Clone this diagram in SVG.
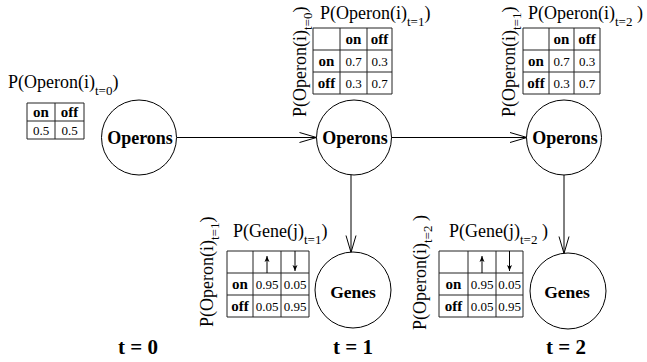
<svg xmlns="http://www.w3.org/2000/svg" width="647" height="362" viewBox="0 0 647 362">
<style>
text{font-family:"Liberation Serif","Times New Roman","DejaVu Serif",serif;fill:#000}
.lbl{font-size:18px}
.sub{font-size:13px}
.node{font-size:18px;font-weight:bold;text-anchor:middle}
.hd{font-size:15px;font-weight:bold;text-anchor:middle}
.v{font-size:13px;text-anchor:middle}
.tl{font-size:21px;font-weight:bold;text-anchor:middle}
.grid{fill:none;stroke:#222;stroke-width:1}
.circ{fill:#fff;stroke:#000;stroke-width:1}
.conn{fill:none;stroke:#000;stroke-width:1}
</style>
<defs>
<marker id="v" markerUnits="userSpaceOnUse" markerWidth="19" markerHeight="12" refX="18" refY="6" orient="auto" viewBox="0 0 19 12">
<path d="M1,1 L18,6 L1,11" fill="none" stroke="#000" stroke-width="1"/>
</marker>
<marker id="s" markerUnits="userSpaceOnUse" markerWidth="7" markerHeight="6" refX="6" refY="3" orient="auto" viewBox="0 0 7 6">
<path d="M0,0.5 L6,3 L0,5.5 L1.5,3 Z" fill="#000"/>
</marker>
</defs>

<g id="connectors">
<line class="conn" x1="177" y1="137.5" x2="316.5" y2="137.5" marker-end="url(#v)"/>
<line class="conn" x1="391" y1="137.5" x2="527" y2="137.5" marker-end="url(#v)"/>
<line class="conn" x1="351" y1="174" x2="351" y2="252.5" marker-end="url(#v)"/>
<line class="conn" x1="564" y1="174" x2="564" y2="253.5" marker-end="url(#v)"/>
</g>

<g id="operons0">
<circle class="circ" cx="139" cy="137.5" r="37.5"/>
<text class="node" x="140" y="143.5">Operons</text>
</g>
<g id="operons1">
<circle class="circ" cx="354" cy="137.5" r="37.5"/>
<text class="node" x="355" y="143.5">Operons</text>
</g>
<g id="operons2">
<circle class="circ" cx="564" cy="137.5" r="37.5"/>
<text class="node" x="565" y="143.5">Operons</text>
</g>
<g id="genes1">
<circle class="circ" cx="353" cy="290" r="38"/>
<text class="node" x="353" y="298" style="font-size:17.5px">Genes</text>
</g>
<g id="genes2">
<circle class="circ" cx="568" cy="291" r="38"/>
<text class="node" x="567" y="298" style="font-size:17.5px">Genes</text>
</g>

<g id="cpt-operon-t0">
<text class="lbl" x="8" y="88">P(Operon(i)<tspan class="sub" dy="7">t=0</tspan><tspan dy="-7">)</tspan></text>
<path class="grid" d="M27,103 H84 V139 H27 Z M55,103 V139 M27,121 H84"/>
<text class="hd" x="41" y="117">on</text>
<text class="hd" x="69.5" y="117">off</text>
<text class="v" x="41" y="135">0.5</text>
<text class="v" x="69.5" y="135">0.5</text>
</g>

<g id="cpt-operon-t1">
<text class="lbl" x="320" y="19">P(Operon(i)<tspan class="sub" dy="7">t=1</tspan><tspan dy="-7">)</tspan></text>
<text class="lbl" transform="translate(306,117) rotate(-90)">P(Operon(i)<tspan class="sub" dy="6">t=0</tspan><tspan dy="-6">)</tspan></text>
<path class="grid" d="M313,28 H392 V94 H313 Z M340,28 V94 M367,28 V94 M313,50 H392 M313,72 H392"/>
<text class="hd" x="353.5" y="44">on</text>
<text class="hd" x="379.5" y="44">off</text>
<text class="hd" x="326.5" y="66">on</text>
<text class="hd" x="326.5" y="88">off</text>
<text class="v" x="353.5" y="66">0.7</text>
<text class="v" x="379.5" y="66">0.3</text>
<text class="v" x="353.5" y="88">0.3</text>
<text class="v" x="379.5" y="88">0.7</text>
</g>

<g id="cpt-operon-t2">
<text class="lbl" x="528" y="19">P(Operon(i)<tspan class="sub" dy="7">t=2</tspan><tspan dy="-7"> )</tspan></text>
<text class="lbl" transform="translate(515,117) rotate(-90)">P(Operon(i)<tspan class="sub" dy="6">t=1</tspan><tspan dy="-6">)</tspan></text>
<path class="grid" d="M523,28 H600 V94 H523 Z M549,28 V94 M574,28 V94 M523,50 H600 M523,72 H600"/>
<text class="hd" x="561.5" y="44">on</text>
<text class="hd" x="587" y="44">off</text>
<text class="hd" x="536" y="66">on</text>
<text class="hd" x="536" y="88">off</text>
<text class="v" x="561.5" y="66">0.7</text>
<text class="v" x="587" y="66">0.3</text>
<text class="v" x="561.5" y="88">0.3</text>
<text class="v" x="587" y="88">0.7</text>
</g>

<g id="cpt-gene-t1">
<text class="lbl" x="233" y="237">P(Gene(j)<tspan class="sub" dy="7">t=1</tspan><tspan dy="-7">)</tspan></text>
<text class="lbl" transform="translate(213,327) rotate(-90)">P(Operon(i)<tspan class="sub" dy="6">t=1</tspan><tspan dy="-6">)</tspan></text>
<path class="grid" d="M227,251 H309 V317 H227 Z M253,251 V317 M281,251 V317 M227,273 H309 M227,295 H309"/>
<line class="conn" x1="267" y1="273" x2="267" y2="256" marker-end="url(#s)"/>
<line class="conn" x1="295" y1="251" x2="295" y2="271" marker-end="url(#s)"/>
<text class="hd" x="240" y="289">on</text>
<text class="hd" x="240" y="311">off</text>
<text class="v" x="267" y="289">0.95</text>
<text class="v" x="295" y="289">0.05</text>
<text class="v" x="267" y="311">0.05</text>
<text class="v" x="295" y="311">0.95</text>
</g>

<g id="cpt-gene-t2">
<text class="lbl" x="449" y="237">P(Gene(j)<tspan class="sub" dy="7">t=2</tspan><tspan dy="-7"> )</tspan></text>
<text class="lbl" transform="translate(426,330) rotate(-90)">P(Operon(i)<tspan class="sub" dy="6">t=2</tspan><tspan dy="-6"> )</tspan></text>
<path class="grid" d="M439,251 H523 V317 H439 Z M468,251 V317 M496,251 V317 M439,273 H523 M439,295 H523"/>
<line class="conn" x1="482" y1="273" x2="482" y2="256" marker-end="url(#s)"/>
<line class="conn" x1="509.5" y1="251" x2="509.5" y2="271" marker-end="url(#s)"/>
<text class="hd" x="453.5" y="289">on</text>
<text class="hd" x="453.5" y="311">off</text>
<text class="v" x="482" y="289">0.95</text>
<text class="v" x="509.5" y="289">0.05</text>
<text class="v" x="482" y="311">0.05</text>
<text class="v" x="509.5" y="311">0.95</text>
</g>

<g id="time-labels">
<text class="tl" x="138" y="354">t = 0</text>
<text class="tl" x="353" y="354">t = 1</text>
<text class="tl" x="566" y="354">t = 2</text>
</g>
</svg>
